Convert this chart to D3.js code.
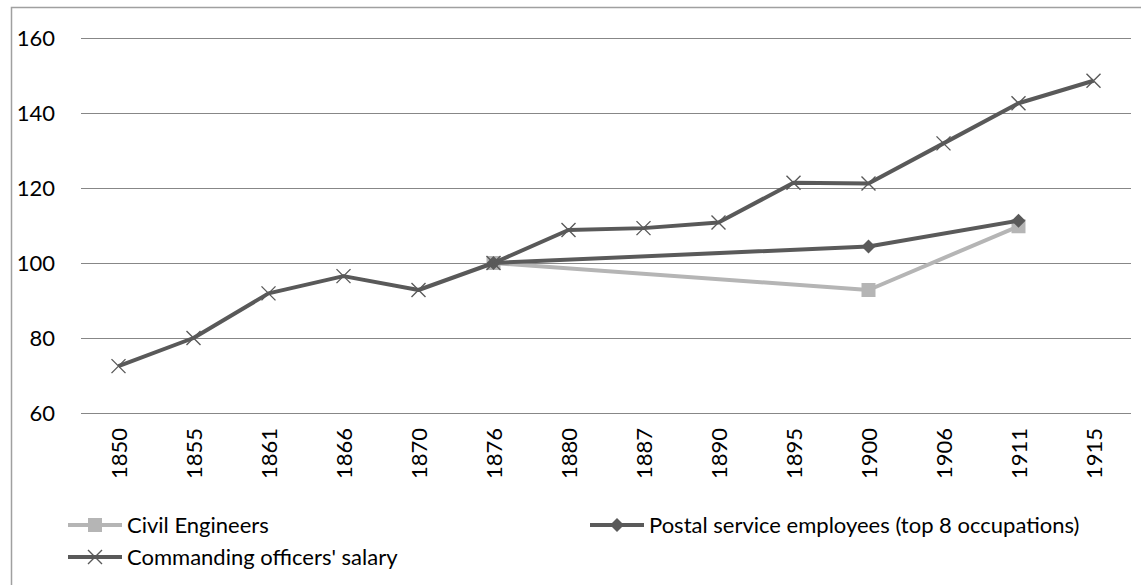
<!DOCTYPE html>
<html>
<head>
<meta charset="utf-8">
<script src="https://cdn.jsdelivr.net/npm/d3@7"></script>
<style>
  body { margin: 0; background: #fff; }
  svg { display: block; font-family: Lato, "Open Sans", sans-serif; }
</style>
</head>
<body>
<div id="chart"></div>
<script>
// Years are plotted as evenly spaced categories (Excel line chart style)
const years = ["1850", "1855", "1861", "1866", "1870", "1876", "1880",
               "1887", "1890", "1895", "1900", "1906", "1911", "1915"];

// null = no observation for that year; the line just bridges over it
const civilEngineers = [null, null, null, null, null, 100, null,
                        null, null, null, 92.8, null, 109.8, null];
const postalEmployees = [null, null, null, null, null, 100, null,
                         null, null, null, 104.4, null, 111.3, null];
const commandingOfficers = [72.5, 80, 91.9, 96.5, 92.8, 100, 108.8,
                            109.3, 110.8, 121.4, 121.2, 131.9, 142.6, 148.6];

const yTicks = [60, 80, 100, 120, 140, 160];

const series = [
    { name: "Civil Engineers", values: civilEngineers, color: "#b5b5b5", marker: "square" },
    { name: "Postal service employees (top 8 occupations)", values: postalEmployees, color: "#5a5a5a", marker: "diamond" },
    { name: "Commanding officers' salary", values: commandingOfficers, color: "#595959", marker: "cross" }
];

const width = 1141, height = 585;
const plot = { left: 81, right: 1131, top: 38, bottom: 413 };

const svg = d3.select("#chart").append("svg")
    .attr("width", width)
    .attr("height", height);

// chart area frame (extends past the right/bottom edge like the source crop)
svg.append("rect")
    .attr("x", 11.5).attr("y", 7.5)
    .attr("width", width + 20).attr("height", height + 20)
    .attr("fill", "#fff")
    .attr("stroke", "#a0a0a0")
    .attr("stroke-width", 1.5);

const x = d3.scaleBand()
    .domain(years)
    .range([plot.left, plot.right]);

const y = d3.scaleLinear()
    .domain([60, 160])
    .range([plot.bottom, plot.top]);

// gridlines
svg.append("g")
    .selectAll("line")
    .data(yTicks)
    .join("line")
    .attr("x1", plot.left).attr("x2", plot.right)
    .attr("y1", d => Math.round(y(d)) + 0.5)
    .attr("y2", d => Math.round(y(d)) + 0.5)
    .attr("stroke", "#878787")
    .attr("stroke-width", 1);

// y axis labels
const yAxis = svg.append("g")
    .attr("transform", `translate(${plot.left - 26},0)`)
    .call(d3.axisLeft(y).tickValues(yTicks).tickSize(0).tickPadding(0));
yAxis.select(".domain").remove();
yAxis.selectAll("text")
    .attr("font-family", "Lato, sans-serif")
    .attr("font-size", 22)
    .attr("fill", "#000");

// x axis labels, rotated
const xAxis = svg.append("g")
    .attr("transform", `translate(0,${plot.bottom})`)
    .call(d3.axisBottom(x).tickSize(0).tickPadding(0));
xAxis.select(".domain").remove();
xAxis.selectAll("text")
    .attr("font-family", "Lato, sans-serif")
    .attr("font-size", 22)
    .attr("fill", "#000")
    .attr("transform", "rotate(-90)")
    .attr("text-anchor", "end")
    .attr("x", -15)
    .attr("y", 1)
    .attr("dy", "0.36em");

const cx = d => x(d) + x.bandwidth() / 2;

function drawMarker(sel, type, color) {
    if (type === "square") {
        sel.append("rect")
            .attr("x", -7).attr("y", -7)
            .attr("width", 14).attr("height", 14)
            .attr("fill", color);
    } else if (type === "diamond") {
        sel.append("path")
            .attr("d", "M0,-7L7,0L0,7L-7,0Z")
            .attr("fill", color);
    } else {
        sel.append("path")
            .attr("d", "M-7,-7L7,7M-7,7L7,-7")
            .attr("stroke", color)
            .attr("stroke-width", 1.4)
            .attr("fill", "none");
    }
}

const line = d3.line()
    .x(d => cx(d.year))
    .y(d => y(d.value));

series.forEach(s => {
    const pts = years.map((yr, i) => ({ year: yr, value: s.values[i] }))
        .filter(d => d.value !== null);

    const g = svg.append("g");
    g.append("path")
        .datum(pts)
        .attr("d", line)
        .attr("fill", "none")
        .attr("stroke", s.color)
        .attr("stroke-width", 4)
        .attr("stroke-linejoin", "round");

    g.selectAll(".mk")
        .data(pts)
        .join("g")
        .attr("class", "mk")
        .attr("transform", d => `translate(${cx(d.year)},${y(d.value)})`)
        .each(function() { drawMarker(d3.select(this), s.marker, s.color); });
});

// legend
const legendPos = [
    { x: 68, y: 525 },
    { x: 590, y: 525 },
    { x: 68, y: 557 }
];

series.forEach((s, i) => {
    const p = legendPos[i];
    const g = svg.append("g").attr("transform", `translate(${p.x},${p.y})`);
    g.append("line")
        .attr("x1", 0).attr("x2", 54)
        .attr("stroke", s.color)
        .attr("stroke-width", 4);
    const m = g.append("g").attr("transform", "translate(27,0)");
    drawMarker(m, s.marker, s.color);
    g.append("text")
        .attr("x", 59)
        .attr("dy", "0.35em")
        .attr("font-size", 22)
        .attr("fill", "#000")
        .text(s.name);
});
</script>
</body>
</html>
